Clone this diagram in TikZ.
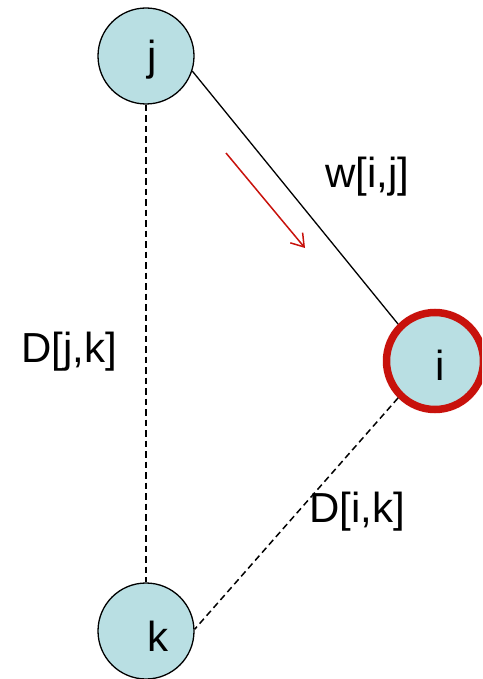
\documentclass[tikz,border=0pt]{standalone}
\usepackage{fontspec}
\setmainfont{Liberation Sans}
\usetikzlibrary{arrows.meta}
\definecolor{nodefill}{RGB}{185,223,227}
\definecolor{ringred}{RGB}{200,18,12}
\begin{document}
\begin{tikzpicture}[x=1pt,y=1pt,
  vert/.style={circle,draw=black,line width=1.3pt,fill=nodefill,inner sep=0pt,minimum size=96pt},
  hot/.style={vert,draw=ringred,line width=7.5pt,minimum size=97pt},
  lbl/.style={font=\fontsize{42}{50}\selectfont},
  edge/.style={line width=1.3pt},
  dedge/.style={line width=1.5pt,dash pattern=on 6.5pt off 4pt}]
\clip (0,0) rectangle (482,-679);
\useasboundingbox (0,0) rectangle (482,-679);
\node[vert,label={[lbl,shift={(6pt,-4pt)}]center:j}] (j) at (146,-56) {};
\node[hot,label={[lbl,shift={(5pt,-4pt)}]center:i}] (i) at (435,-361) {};
\node[vert,label={[lbl,shift={(12pt,-5pt)}]center:k}] (k) at (146,-631) {};
\draw[edge] (j.-18) -- (i.135);
\draw[dedge] (j.south) -- (k.north);
\draw[dedge] (i.225) -- (k.2);
\coordinate (a0) at (226,-153);
\coordinate (a1) at (305,-248);
\draw[ringred,line width=1.5pt,-{Straight Barb[length=12pt,width=16pt,line width=1.5pt]}] (a0) -- (a1);
\node[lbl] (w) at (367,-177) {w[i,j]};
\node[lbl] (djk) at (69,-352) {D[j,k]};
\node[lbl] (dik) at (357,-512) {D[i,k]};
\end{tikzpicture}
\end{document}
